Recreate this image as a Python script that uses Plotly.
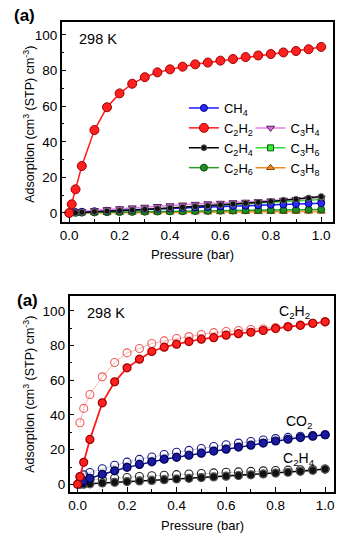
import plotly.graph_objects as go

# ---------------- data: top panel ----------------
p_c2h2 = [0, 0.01, 0.025, 0.05, 0.1, 0.15, 0.2, 0.25, 0.3, 0.35, 0.4, 0.45, 0.5,
          0.55, 0.6, 0.65, 0.7, 0.75, 0.8, 0.85, 0.9, 0.95, 1.0]
c2h2_top = [0, 4.9, 13.3, 26.4, 46.6, 59.4, 67.2, 72.6, 76.3, 79.0, 80.7, 82.2, 83.5,
            84.5, 85.6, 86.5, 87.6, 88.5, 89.3, 90.2, 91.0, 92.0, 93.3]

p_small = [0.025, 0.05, 0.1, 0.15, 0.2, 0.25, 0.3, 0.35, 0.4, 0.45, 0.5,
           0.55, 0.6, 0.65, 0.7, 0.75, 0.8, 0.85, 0.9, 0.95, 1.0]
ch4 = [0.5, 0.7, 1.0, 1.3, 1.6, 1.8, 2.1, 2.4, 2.6, 2.9, 3.1, 3.4, 3.6, 3.9, 4.1, 4.3, 4.6, 4.8, 5.0, 5.3, 5.5]
c2h4_top = [0.2, 0.4, 0.7, 1.0, 1.3, 1.7, 2.0, 2.4, 2.8, 3.2, 3.6, 4.0, 4.5, 5.0, 5.5, 6.0, 6.5, 7.1, 7.7, 8.4, 9.2]
c2h6 = [0.1, 0.2, 0.3, 0.4, 0.5, 0.6, 0.7, 0.8, 0.9, 1.0, 1.1, 1.2, 1.3, 1.4, 1.5, 1.6, 1.6, 1.7, 1.8, 1.9, 2.0]
c3h4 = [0.5, 0.9, 1.5, 2.0, 2.5, 3.0, 3.4, 3.8, 4.2, 4.6, 5.0, 5.3, 5.6, 5.9, 6.2, 6.5, 6.9, 7.3, 7.7, 8.1, 8.5]
c3h6 = [0.2, 0.4, 0.7, 1.0, 1.3, 1.6, 2.0, 2.3, 2.7, 3.0, 3.4, 3.8, 4.2, 4.6, 5.0, 5.4, 5.8, 6.3, 6.8, 7.2, 7.6]
c3h8 = [0.0, 0.1, 0.1, 0.2, 0.2, 0.3, 0.3, 0.4, 0.4, 0.5, 0.5, 0.5, 0.6, 0.6, 0.7, 0.7, 0.7, 0.8, 0.8, 0.9, 0.9]

# ---------------- data: bottom panel ----------------
c2h2_ads = [0, 4.4, 12.7, 25.9, 47.0, 59.1, 67.2, 72.2, 76.6, 79.1, 80.8, 82.3, 83.7,
            84.6, 86.0, 86.9, 87.7, 88.7, 89.8, 90.8, 91.7, 92.9, 93.7]
p_des = [0.01, 0.025, 0.05, 0.1, 0.15, 0.2, 0.25, 0.3, 0.35, 0.4, 0.45, 0.5,
         0.55, 0.6, 0.65, 0.7, 0.75, 0.8, 0.85, 0.9, 0.95, 1.0]
c2h2_des = [35.5, 43.8, 51.8, 62.0, 70.3, 75.8, 78.3, 81.2, 82.7, 84.1, 85.2, 86.4,
            87.5, 88.1, 88.7, 89.3, 89.6, 90.4, 91.0, 91.8, 92.8, 93.7]

p_ads2 = [0.01, 0.025, 0.05, 0.1, 0.15, 0.2, 0.25, 0.3, 0.35, 0.4, 0.45, 0.5,
          0.55, 0.6, 0.65, 0.7, 0.75, 0.8, 0.85, 0.9, 0.95, 1.0]
co2_ads = [0.8, 2.0, 3.5, 5.8, 7.8, 9.8, 11.5, 13.0, 14.5, 15.6, 16.8, 18.0,
           19.2, 20.3, 21.5, 22.6, 23.8, 25.0, 26.0, 27.0, 27.8, 28.6]
co2_des = [4.5, 5.5, 6.8, 9.0, 11.0, 12.8, 14.4, 15.8, 17.2, 18.5, 19.6, 20.7,
           21.8, 22.8, 23.8, 24.7, 25.6, 26.4, 27.1, 27.7, 28.2, 28.6]
c2h4_ads = [0.0, 0.1, 0.3, 0.8, 1.2, 1.6, 2.0, 2.3, 2.7, 3.1, 3.5, 3.9,
            4.3, 4.7, 5.1, 5.5, 6.0, 6.5, 7.0, 7.5, 8.1, 8.8]
c2h4_des = [1.5, 2.0, 2.5, 3.0, 3.6, 4.0, 4.5, 5.0, 5.3, 5.6, 6.0, 6.3,
            6.6, 7.0, 7.2, 7.5, 7.8, 8.0, 8.2, 8.4, 8.6, 8.8]

x_ticks = [0.0, 0.2, 0.4, 0.6, 0.8, 1.0]
y_ticks = [0, 20, 40, 60, 80, 100]

W, H = 342, 541
FONT = "Liberation Sans, Arial, sans-serif"

fig = go.Figure()

def top(name, x, y, color, mcolor, symbol, size, lcolor, legend, rank, lw=1.5):
    fig.add_trace(go.Scatter(
        x=x, y=y, name=name, mode="lines+markers", xaxis="x", yaxis="y",
        line=dict(color=color, width=lw),
        marker=dict(color=mcolor, symbol=symbol, size=size, line=dict(color=lcolor, width=1)),
        legend=legend, legendrank=rank, showlegend=True))

# draw order: smaller series underneath
top("C<sub>3</sub>H<sub>8</sub>", p_small, c3h8, "#f08a24", "#f08a24", "triangle-up", 7, "#8a4a00", "legend2", 3)
top("C<sub>2</sub>H<sub>6</sub>", p_small, c2h6, "#2a9a2a", "#1f8f1f", "circle", 7, "#0b4d0b", "legend", 4)
top("C<sub>3</sub>H<sub>6</sub>", p_small, c3h6, "#33dd33", "#33ee33", "square", 6, "#0b5a0b", "legend2", 2)
top("CH<sub>4</sub>", p_small, ch4, "#1a1aff", "#2a2aff", "circle", 7, "#000080", "legend", 1)
top("C<sub>3</sub>H<sub>4</sub>", p_small, c3h4, "#e07fe0", "#d070d8", "triangle-down", 7, "#5a1a60", "legend2", 1)
top("C<sub>2</sub>H<sub>4</sub>", p_small, c2h4_top, "#000000", "#111111", "circle", 6, "#666666", "legend", 3)
top("C<sub>2</sub>H<sub>2</sub>", p_c2h2, c2h2_top, "#ff1a1a", "#ff2020", "circle", 9, "#a00000", "legend", 2)

# bottom panel
def bot(x, y, color, mcolor, lcolor, size, lw, symbol="circle", lwm=1.2):
    fig.add_trace(go.Scatter(
        x=x, y=y, mode="lines+markers", xaxis="x2", yaxis="y2", showlegend=False,
        line=dict(color=color, width=lw),
        marker=dict(color=mcolor, symbol=symbol, size=size, line=dict(color=lcolor, width=lwm))))

bot(p_des, c2h4_des, "#c8c8c8", "#222222", "#222222", 8, 0.8, "circle-open", 1.1)
bot(p_des, co2_des, "#c0c0d0", "#1a1a8a", "#1a1a8a", 8, 0.8, "circle-open", 1.1)
bot(p_des, c2h2_des, "#f4a0a0", "#f05a5a", "#f05a5a", 8, 0.8, "circle-open", 1.1)
bot(p_ads2, c2h4_ads, "#000000", "#111111", "#555555", 8, 1.5)
bot(p_ads2, co2_ads, "#0f0f8a", "#1a1aa0", "#000050", 8, 1.5)
bot(p_c2h2, c2h2_ads, "#ff1a1a", "#ff2020", "#a00000", 8, 1.8)

axis_common = dict(showline=True, linecolor="black", linewidth=1.5, mirror=True,
                   ticks="inside", ticklen=5, tickwidth=1.2, tickcolor="black",
                   showgrid=False, zeroline=False,
                   tickfont=dict(family=FONT, size=13.5, color="black"))

fig.update_layout(
    width=W, height=H, margin=dict(l=0, r=0, t=0, b=0),
    paper_bgcolor="white", plot_bgcolor="white",
    font=dict(family=FONT, color="black"),
    xaxis=dict(domain=[60/W, 333/W], anchor="y", range=[-0.030, 1.047],
               tickvals=x_ticks, tickformat=".1f",
               minor=dict(dtick=0.1, ticks="inside", ticklen=3, tickcolor="black"), **axis_common),
    yaxis=dict(domain=[1-222/H, 1-22/H], anchor="x", range=[-5.06, 107.3],
               tickvals=y_ticks,
               minor=dict(dtick=10, ticks="inside", ticklen=3, tickcolor="black"), **axis_common),
    xaxis2=dict(domain=[68/W, 334/W], anchor="y2", range=[-0.032, 1.036],
                tickvals=x_ticks, tickformat=".1f",
                minor=dict(dtick=0.1, ticks="inside", ticklen=3, tickcolor="black"), **axis_common),
    yaxis2=dict(domain=[1-492/H, 1-296/H], anchor="x2", range=[-4.4, 108.6],
                tickvals=y_ticks,
                minor=dict(dtick=10, ticks="inside", ticklen=3, tickcolor="black"), **axis_common),
    legend=dict(x=183/W, y=1-93/H, xanchor="left", yanchor="top",
                bgcolor="rgba(0,0,0,0)", traceorder="normal",
                font=dict(family=FONT, size=13, color="black"),
                tracegroupgap=0, itemwidth=30),
    legend2=dict(x=250/W, y=1-113/H, xanchor="left", yanchor="top",
                 bgcolor="rgba(0,0,0,0)", traceorder="normal",
                 font=dict(family=FONT, size=13, color="black"),
                 tracegroupgap=0, itemwidth=30),
)

ann = []
def A(text, px, py, size, angle=0, bold=False):
    ann.append(dict(text=f"<b>{text}</b>" if bold else text, x=px/W, y=1-py/H,
                    xref="paper", yref="paper", showarrow=False, textangle=angle,
                    xanchor="center", yanchor="middle",
                    font=dict(family=FONT, size=size, color="black")))

A("(a)", 23, 15, 17, bold=True)
A("298 K", 96.5, 39, 14.5)
A("Pressure (bar)", 192, 255, 13)
A("Adsorption (cm<sup>3</sup> (STP) cm<sup>-3</sup>)", 27, 124, 12.5, angle=-90)

A("(a)", 26, 300, 17, bold=True)
A("298 K", 105, 313, 14.5)
A("C<sub>2</sub>H<sub>2</sub>", 294, 312, 14)
A("CO<sub>2</sub>", 298.5, 422, 14)
A("C<sub>2</sub>H<sub>4</sub>", 299, 459, 14)
A("Pressure (bar)", 202, 525, 13)
A("Adsorption (cm<sup>3</sup> (STP) cm<sup>-3</sup>)", 27, 394, 12.5, angle=-90)

fig.update_layout(annotations=ann)
fig.write_html("out.html")
